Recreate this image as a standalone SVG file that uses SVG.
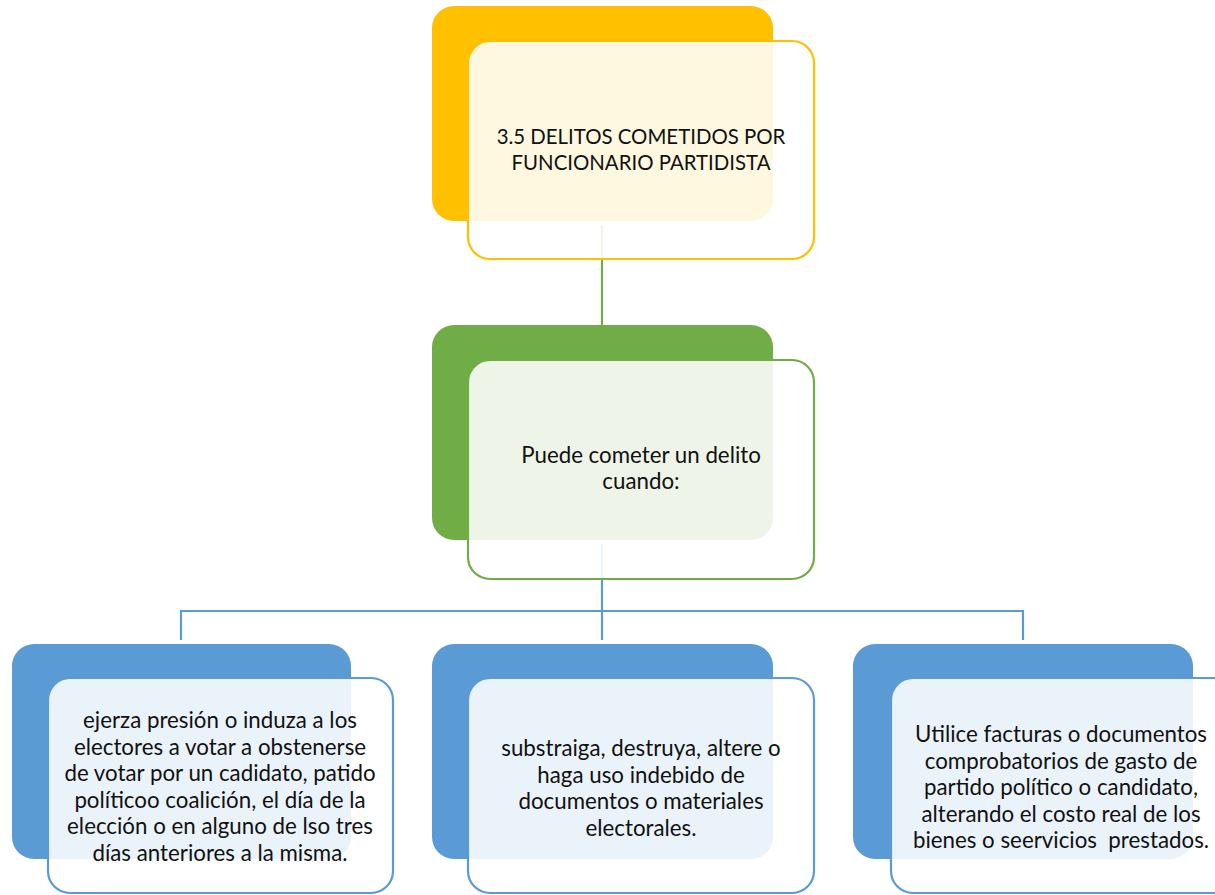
<svg xmlns="http://www.w3.org/2000/svg" width="1215" height="895" viewBox="0 0 1215 895">
<style>
.bg{fill:#ffffff}
.y{fill:#FFC000}
.g{fill:#70AD47}
.b{fill:#5B9BD5}
.fy{fill:#ffffff;fill-opacity:0.88;stroke:#FFC000;stroke-width:2.2}
.fg{fill:#ffffff;fill-opacity:0.88;stroke:#70AD47;stroke-width:2.2}
.fb{fill:#ffffff;fill-opacity:0.88;stroke:#5B9BD5;stroke-width:2.2}
.cg{stroke:#70AD47;stroke-width:2.2;fill:none}
.cb{stroke:#5B9BD5;stroke-width:2.2;fill:none}
text{font-family:Lato,"Open Sans","Liberation Sans",sans-serif;font-size:22.3px;fill:#111111;text-anchor:middle;white-space:pre}
text.caps{font-size:20.4px}
</style>
<rect class="bg" x="0" y="0" width="1215" height="895"/>
<g id="connectors">
<line class="cg" x1="602" y1="225" x2="602" y2="326"/>
<polyline class="cb" points="602,544 602,611"/>
<polyline class="cb" points="181,640 181,611 1023,611 1023,640"/>
<line class="cb" x1="602" y1="611" x2="602" y2="640"/>
</g>
<g id="n-top">
<rect class="y" x="432" y="6" width="341" height="215" rx="22"/>
<rect class="fy" x="468" y="41" width="346" height="218" rx="22"/>
<text class="caps" x="641" y="144">3.5 DELITOS COMETIDOS POR</text>
<text class="caps" x="641" y="170">FUNCIONARIO PARTIDISTA</text>
</g>
<g id="n-mid">
<rect class="g" x="432" y="325" width="341" height="215" rx="22"/>
<rect class="fg" x="468" y="360" width="346" height="219" rx="22"/>
<text x="641" y="463">Puede cometer un delito</text>
<text x="641" y="489">cuando:</text>
</g>
<g id="n-left">
<rect class="b" x="12" y="644" width="339" height="215" rx="22"/>
<rect class="fb" x="48" y="678" width="345" height="215" rx="22"/>
<text x="220" y="728">ejerza presión o induza a los</text>
<text x="220" y="754.5">electores a votar a obstenerse</text>
<text x="220" y="781">de votar por un cadidato, patido</text>
<text x="220" y="807.5">políticoo coalición, el día de la</text>
<text x="220" y="834">elección o en alguno de lso tres</text>
<text x="220" y="860.5">días anteriores a la misma.</text>
</g>
<g id="n-center">
<rect class="b" x="432" y="644" width="341" height="215" rx="22"/>
<rect class="fb" x="468" y="678" width="346" height="215" rx="22"/>
<text x="641" y="756">substraiga, destruya, altere o</text>
<text x="641" y="782.5">haga uso indebido de</text>
<text x="641" y="809">documentos o materiales</text>
<text x="641" y="835.5">electorales.</text>
</g>
<g id="n-right">
<rect class="b" x="853" y="644" width="340" height="215" rx="22"/>
<rect class="fb" x="891" y="678" width="346" height="215" rx="22"/>
<text x="1061" y="742">Utilice facturas o documentos</text>
<text x="1061" y="768.5">comprobatorios de gasto de</text>
<text x="1061" y="795">partido político o candidato,</text>
<text x="1061" y="821.5">alterando el costo real de los</text>
<text x="1061" y="848">bienes o seervicios  prestados.</text>
</g>
</svg>
